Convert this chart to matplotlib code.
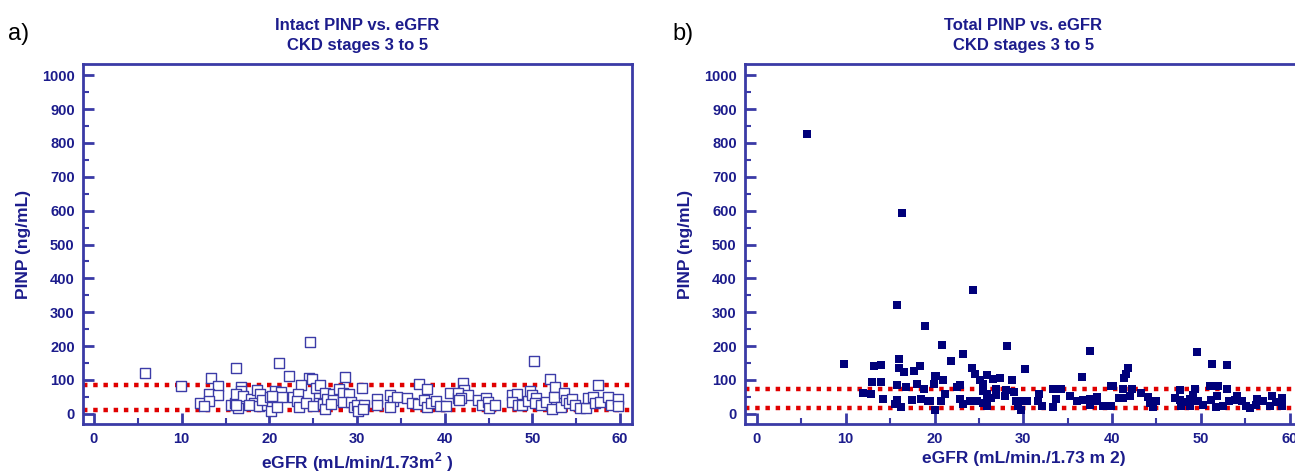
import matplotlib
matplotlib.use("Agg")
import matplotlib.pyplot as plt
from matplotlib.ticker import MultipleLocator

plt.rcParams["font.family"] = ["Liberation Sans", "DejaVu Sans"]
plt.rcParams["mathtext.fontset"] = "custom"
plt.rcParams["mathtext.bf"] = "Liberation Sans:bold"
plt.rcParams["mathtext.rm"] = "Liberation Sans:bold"

NAVY = "#1c1c8c"
SPINE = "#3a3aa6"
RED = "#e00000"

# panel a: intact PINP (open squares)
intact_egfr = [
    5.85, 9.96, 16.2, 13.4, 14.2, 13.1, 14.2, 12.1, 13.1, 12.5, 15.6, 16.1, 16.4,
    16.8, 16.8, 16.2, 17.0, 16.2, 17.9, 18.6, 18.9, 18.2, 17.7, 18.8, 19.7, 19.2,
    20.1, 20.2,
    24.6, 21.1, 22.2, 24.5, 24.9, 28.6, 23.6, 20.6, 21.3, 21.4, 20.3, 20.9, 22.7,
    23.3, 23.1, 23.4, 24.2, 25.3, 25.8, 25.7, 25.7, 25.0, 26.1, 26.3, 26.4, 26.6,
    27.2, 27.2, 27.0, 27.9, 28.4, 29.1, 28.4, 29.3, 29.6, 30.0, 30.1, 30.6, 30.8,
    30.7, 32.3, 32.3, 33.7, 34.1, 34.6, 33.8, 35.7, 36.3, 37.1, 38.0, 37.0, 37.6,
    38.0, 38.4, 39.0, 39.5, 40.1, 40.6, 41.5,
    50.2, 42.1, 52.0, 52.6, 57.5, 42.2, 41.5, 42.7, 41.9, 41.6, 43.8, 44.7, 44.2,
    44.9, 45.1, 45.7, 47.7, 48.2, 47.7, 48.3, 48.8, 49.5, 49.7, 49.9, 50.4, 50.3,
    51.0, 51.5, 52.2, 52.4, 53.2, 53.6, 53.8, 54.2, 54.5, 54.8, 55.4, 56.1, 56.3,
    56.9, 57.1, 57.7, 58.6, 59.0, 59.7, 59.8,
]
intact_pinp = [
    120, 82, 135, 105, 82, 60, 57, 31, 37, 23, 25, 31, 17,
    80, 67, 58, 53, 25, 43, 70, 58, 31, 25, 23, 25, 40,
    51, 8,
    211, 149, 112, 107, 104, 110, 85, 67, 65, 51, 53, 21, 51,
    58, 38, 21, 33, 76, 86, 48, 33, 23, 28, 13, 61, 43,
    58, 40, 28, 72, 63, 60, 35, 35, 21, 25, 9, 76, 25,
    15, 43, 25, 56, 38, 51, 21, 46, 31, 87, 72, 28, 40,
    21, 31, 39, 23, 23, 62, 48,
    155, 90, 104, 80, 85, 70, 63, 55, 48, 41, 40, 48, 25,
    35, 17, 27, 57, 60, 35, 27, 25, 37, 67, 57, 47, 31,
    25, 35, 15, 51, 21, 63, 41, 31, 45, 27, 17, 17, 47,
    51, 33, 35, 51, 25, 43, 23,
]

# panel b: total PINP (filled squares)
total_egfr = [
    5.6, 16.3, 15.8, 24.3,
    18.9, 9.8, 13.2, 14.0, 16.0, 16.0, 16.6, 17.7, 18.4, 13.0, 14.0, 11.9, 12.9,
    14.2, 15.8, 16.8, 18.0, 18.8, 15.8, 15.5, 16.2, 17.5, 18.5, 19.3, 20.0, 19.9,
    20.0,
    20.8, 28.2, 23.2, 21.9, 37.5, 30.2, 24.2, 24.6, 20.2, 21.0, 25.1, 25.9, 26.6,
    27.4, 28.7, 25.5, 22.5, 22.9, 21.2, 25.5, 25.9, 26.9, 26.9, 28.1, 28.9, 27.9,
    26.4, 25.9, 25.5, 25.9, 20.7, 19.5, 22.9, 23.2, 24.0, 24.8, 29.2, 29.8, 30.4,
    29.4, 29.7, 31.8, 31.7, 32.1, 33.3, 34.2, 33.7, 33.4, 36.6, 35.3, 36.0, 36.7,
    37.5, 38.3, 38.3, 37.5, 39.0, 39.8, 40.1, 40.8,
    49.6, 51.3, 52.9, 41.8, 41.6, 41.3, 39.9, 41.2, 42.2, 41.2, 42.0, 43.3, 44.1,
    44.3, 45.0, 44.6, 39.9, 47.6, 47.1, 47.7, 48.1, 48.8, 49.3, 49.1, 49.7, 48.8,
    47.8, 50.3, 51.0, 51.9, 52.9, 51.2, 51.8, 51.7, 52.5, 53.8, 54.1, 54.6, 55.1,
    55.5, 56.3, 57.0, 56.2, 58.0, 59.1, 58.5, 59.1, 57.8, 53.2,
]
total_pinp = [
    826, 594, 320, 367,
    260, 146, 141, 143, 162, 136, 123, 126, 141, 95, 95, 62, 60,
    44, 84, 79, 89, 72, 42, 30, 21, 42, 44, 37, 111, 88,
    10,
    204, 201, 178, 155, 187, 133, 136, 119, 111, 99, 101, 116, 103,
    106, 101, 89, 80, 84, 60, 67, 60, 74, 57, 70, 64, 52,
    47, 42, 32, 24, 37, 37, 44, 30, 37, 37, 37, 37, 37,
    24, 11, 60, 37, 24, 74, 74, 44, 21, 109, 54, 37, 42,
    44, 50, 37, 27, 24, 22, 81, 47,
    183, 148, 143, 136, 119, 106, 83, 74, 74, 47, 54, 62, 50,
    32, 37, 21, 24, 70, 47, 42, 34, 44, 72, 57, 37, 24,
    24, 27, 81, 81, 72, 42, 54, 21, 24, 42, 54, 37, 24,
    18, 44, 37, 27, 54, 47, 34, 24, 24, 37,
]

intact_ref = [84, 11]
total_ref = [73, 18]

fig = plt.figure(figsize=(12.95, 4.73), dpi=100)
ax_a = fig.add_axes([83 / 1295, 49 / 473, 549 / 1295, 360 / 473])
ax_b = fig.add_axes([745 / 1295, 49 / 473, 557 / 1295, 360 / 473])


def style_axes(ax, xlim, title, xlabel):
    ax.set_xlim(*xlim)
    ax.set_ylim(-30, 1033)
    ax.xaxis.set_major_locator(MultipleLocator(10))
    ax.xaxis.set_minor_locator(MultipleLocator(5))
    ax.yaxis.set_major_locator(MultipleLocator(100))
    ax.yaxis.set_minor_locator(MultipleLocator(50))
    ax.tick_params(which="both", direction="in", colors=SPINE, labelcolor=NAVY,
                   top=False, right=False)
    ax.tick_params(which="major", length=8, width=2, labelsize=10.5, pad=6)
    ax.tick_params(which="minor", length=4, width=1.5)
    for lbl in ax.get_xticklabels() + ax.get_yticklabels():
        lbl.set_fontweight("bold")
    for sp in ax.spines.values():
        sp.set_color(SPINE)
        sp.set_linewidth(2)
    ax.set_title(title, color=NAVY, fontweight="bold", fontsize=12, pad=10,
                 linespacing=1.4)
    ax.set_xlabel(xlabel, color=NAVY, fontweight="bold", fontsize=12.5, labelpad=3)
    ax.set_ylabel("PINP (ng/mL)", color=NAVY, fontweight="bold", fontsize=12.5,
                  labelpad=8)


style_axes(ax_a, (-1.25, 61.35), "Intact PINP vs. eGFR\nCKD stages 3 to 5",
           r"eGFR (mL/min/1.73m$^{\mathbf{2}}$ )")
style_axes(ax_b, (-1.35, 61.4), "Total PINP vs. eGFR\nCKD stages 3 to 5",
           "eGFR (mL/min./1.73 m 2)")

for y in intact_ref:
    ax_a.axhline(y, color=RED, linestyle=(0, (1, 1.3)), linewidth=3.2, zorder=1)
for y in total_ref:
    ax_b.axhline(y, color=RED, linestyle=(0, (1, 1.3)), linewidth=3.2, zorder=1)

ax_a.scatter(intact_egfr, intact_pinp, marker="s", s=42, facecolors="white",
             edgecolors="#3c3ca8", linewidths=1.0, zorder=3, clip_on=False)
ax_b.scatter(total_egfr, total_pinp, marker="s", s=36, color="#00007a",
             linewidths=0, zorder=3)

fig.text(8 / 1295, 1 - 34 / 473, "a)", fontsize=17, color="black", va="center")
fig.text(672 / 1295, 1 - 34 / 473, "b)", fontsize=17, color="black", va="center")

fig.savefig("out.png", dpi=100)
